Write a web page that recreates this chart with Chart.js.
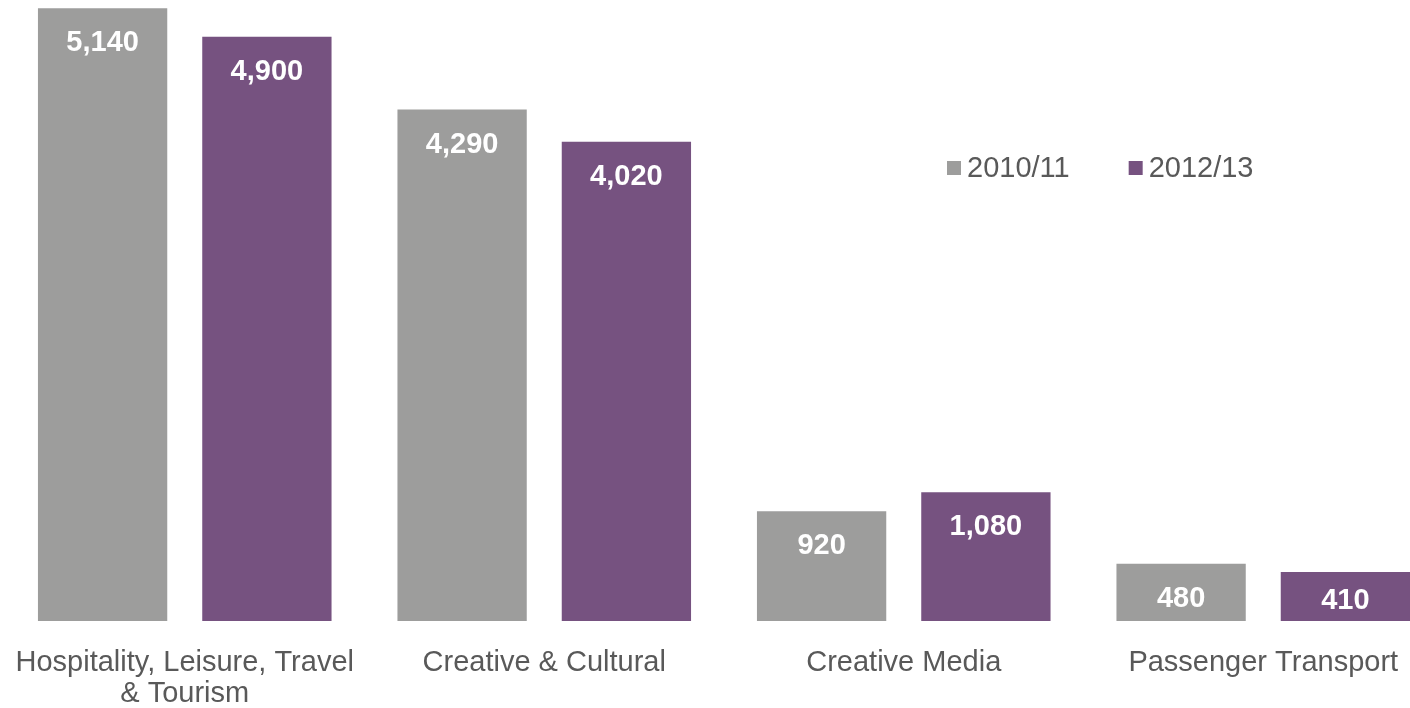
<!DOCTYPE html>
<html lang="en">
  <head>
    <meta charset="UTF-8" />
    <title>Bar chart</title>
    <script src="https://cdn.jsdelivr.net/npm/chart.js"></script>
    <style>
      body {
        margin: 0;
        background: #ffffff;
        overflow: hidden;
      }
      .chart-box {
        position: absolute;
        left: 0;
        top: 0;
        width: 1443px; /* a bit wider than the window, last bar is cut off */
        height: 708px;
      }
    </style>
  </head>
  <body>
    <div class="chart-box">
      <canvas id="barChart"></canvas>
    </div>

    <script>
      // data
      const categories = [
        ["Hospitality, Leisure, Travel", "& Tourism"],
        "Creative & Cultural",
        "Creative Media",
        "Passenger Transport",
      ];
      const seriesNames = ["2010/11", "2012/13"];
      const values2010 = [5140, 4290, 920, 480];
      const values2012 = [4900, 4020, 1080, 410];

      const colors = ["#9d9d9c", "#765280"];
      const textGrey = "#595959";
      const fontFamily = "Arial, 'Liberation Sans', sans-serif";

      // white value labels inside the bars
      const valueLabels = {
        id: "valueLabels",
        afterDatasetsDraw(chart) {
          const ctx = chart.ctx;
          ctx.save();
          ctx.fillStyle = "#ffffff";
          ctx.font = "bold 29px " + fontFamily;
          ctx.textAlign = "center";
          ctx.textBaseline = "middle";
          chart.data.datasets.forEach((ds, i) => {
            chart.getDatasetMeta(i).data.forEach((bar, j) => {
              // short bars: keep the label inside
              const y = Math.min(bar.y + 35, bar.base - 20);
              ctx.fillText(ds.data[j].toLocaleString("en-US"), bar.x, y);
            });
          });
          ctx.restore();
        },
      };

      // legend sits inside the plot, upper right
      const innerLegend = {
        id: "innerLegend",
        afterDraw(chart) {
          const ctx = chart.ctx;
          ctx.save();
          ctx.font = "29px " + fontFamily;
          ctx.textBaseline = "middle";
          let x = 947;
          const y = 168;
          chart.data.datasets.forEach((ds) => {
            ctx.fillStyle = ds.backgroundColor;
            ctx.fillRect(x, y - 7, 14, 14);
            ctx.fillStyle = textGrey;
            ctx.fillText(ds.label, x + 20, y + 1);
            x += 20 + ctx.measureText(ds.label).width + 59;
          });
          ctx.restore();
        },
      };

      new Chart(document.getElementById("barChart"), {
        type: "bar",
        data: {
          labels: categories,
          datasets: [
            { label: seriesNames[0], data: values2010, backgroundColor: colors[0] },
            { label: seriesNames[1], data: values2012, backgroundColor: colors[1] },
          ],
        },
        options: {
          responsive: true,
          maintainAspectRatio: false,
          animation: false,
          categoryPercentage: 0.914,
          barPercentage: 0.787,
          layout: { padding: { left: 5, right: 0, top: 1, bottom: 0 } },
          plugins: {
            legend: { display: false },
            tooltip: { enabled: false },
          },
          scales: {
            x: {
              grid: { display: false },
              border: { display: false },
              ticks: {
                color: textGrey,
                font: { family: fontFamily, size: 29, lineHeight: 1.07 },
                padding: 18,
                maxRotation: 0,
                autoSkip: false,
              },
              afterFit(scale) {
                // no extra room for label overflow, fixed axis band
                scale.paddingLeft = 0;
                scale.paddingRight = 0;
                scale.height = 87;
              },
            },
            y: {
              display: false,
              min: 0,
              max: 5200,
            },
          },
        },
        plugins: [valueLabels, innerLegend],
      });
    </script>
  </body>
</html>
